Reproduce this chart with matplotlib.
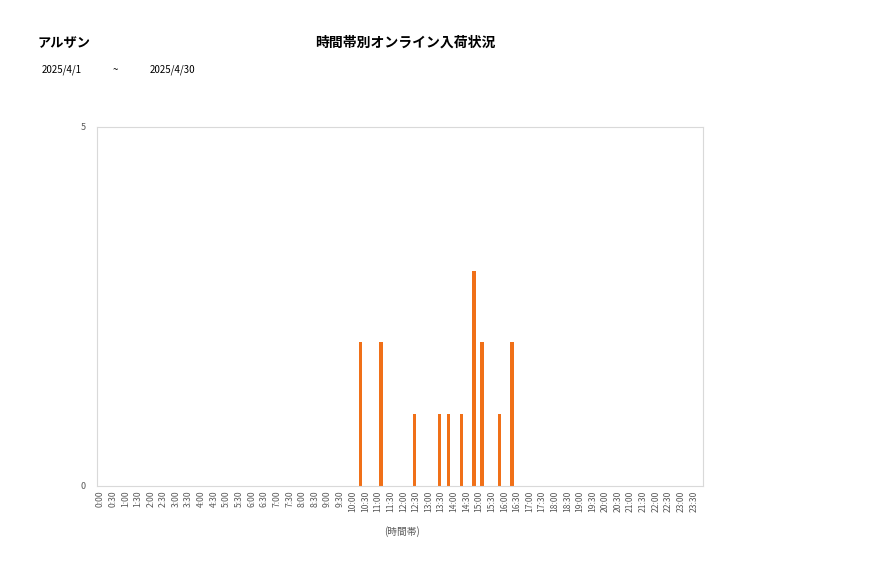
#!/usr/bin/env python3
import numpy as np
import matplotlib as mpl
mpl.use('Agg')
import matplotlib.pyplot as plt
import matplotlib.transforms as mtransforms

plt.rcParams['font.family'] = ['Noto Sans CJK JP', 'DejaVu Sans']

shop = 'アルザン'
title = '時間帯別オンライン入荷状況'
date_from = '2025/4/1'
date_to = '2025/4/30'
xlabel = '(時間帯)'

# 30-minute slots, 0:00 .. 23:30
slots = ['%d:%02d' % (h, m) for h in range(24) for m in (0, 30)]

# counts per slot, three series drawn in the same colour (clustered)
series_a = {'12:30': 1, '13:30': 1}
series_b = {'11:00': 2, '15:00': 2}
series_c = {'10:00': 2, '13:30': 1, '14:00': 1, '14:30': 3, '15:30': 1, '16:00': 2}

ymax = 5
bar_color = '#f07018'
grey = '#d9d9d9'


def to_array(d):
    return np.array([d.get(s, 0) for s in slots], dtype=float)


def main():
    fig = plt.figure(figsize=(8.77, 5.78), dpi=100)
    ax = fig.add_axes([0.1106, 0.1592, 0.691, 0.6211])

    x = np.arange(len(slots))
    shift = 0.36
    for off, d in zip((-shift, 0, shift), (series_a, series_b, series_c)):
        vals = to_array(d)
        ax.bar(x + off, vals, width=0.27, color=bar_color, linewidth=0)

    ax.set_xlim(-0.5, len(slots) - 0.5)
    ax.set_ylim(0, ymax)
    ax.set_yticks([0, ymax])
    ax.tick_params(axis='y', length=0, labelsize=6.5, labelcolor='#595959', pad=8)
    ax.set_xticks(x)
    ax.set_xticklabels(slots, rotation=90, fontsize=6.2, color='#595959')
    ax.tick_params(axis='x', length=0, pad=3)
    shift_lbl = mtransforms.ScaledTranslation(-0.03, 0, fig.dpi_scale_trans)
    for lbl in ax.get_xticklabels():
        lbl.set_transform(lbl.get_transform() + shift_lbl)

    for sp in ax.spines.values():
        sp.set_color(grey)
        sp.set_linewidth(0.8)

    fig.text(0.0433, 0.9256, shop, fontsize=9.5, fontweight='bold', va='center', ha='left')
    fig.text(0.462, 0.9256, title, fontsize=10, fontweight='bold', va='center', ha='center')
    fig.text(0.0479, 0.879, date_from, fontsize=7, va='center', ha='left')
    fig.text(0.131, 0.879, '~', fontsize=7, va='center', ha='center')
    fig.text(0.171, 0.879, date_to, fontsize=7, va='center', ha='left')
    fig.text(0.458, 0.0796, xlabel, fontsize=7, color='#595959', va='center', ha='center')

    fig.savefig('out.png', dpi=100)
    print('Created out.png')


if __name__ == '__main__':
    main()
